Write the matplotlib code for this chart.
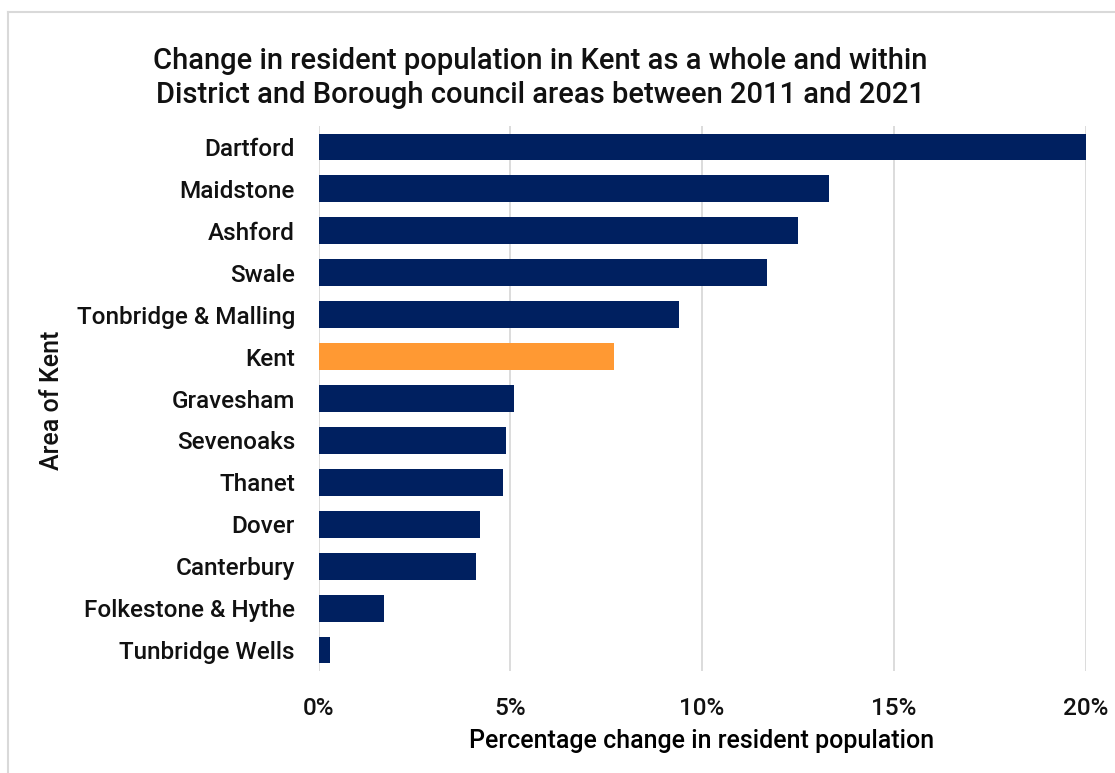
import matplotlib.pyplot as plt
from matplotlib.ticker import PercentFormatter
from matplotlib.lines import Line2D

# Population change 2011-2021 (%), listed top to bottom
areas = ['Dartford', 'Maidstone', 'Ashford', 'Swale', 'Tonbridge & Malling', 'Kent',
         'Gravesham', 'Sevenoaks', 'Thanet', 'Dover', 'Canterbury',
         'Folkestone & Hythe', 'Tunbridge Wells']
change = [20.0, 13.3, 12.5, 11.7, 9.4, 7.7, 5.1, 4.9, 4.8, 4.2, 4.1, 1.7, 0.3]

navy = '#002060'
orange = '#FF9933'
colours = [orange if a == 'Kent' else navy for a in areas]

plt.rcParams['font.family'] = ['Roboto', 'DejaVu Sans']
plt.rcParams['text.color'] = '#111111'
plt.rcParams['xtick.color'] = '#111111'
plt.rcParams['ytick.color'] = '#111111'

W, H = 1115, 773
fig = plt.figure(figsize=(W / 100, H / 100), dpi=100)
ax = fig.add_axes([318.6 / W, 1 - 671 / H, (1085.5 - 318.6) / W, 545 / H])

# light frame along the top and left edges
fig.lines.append(Line2D([8 / W, 1], [1 - 12 / H, 1 - 12 / H], transform=fig.transFigure,
                        color='#d9d9d9', linewidth=1.5))
fig.lines.append(Line2D([8 / W, 8 / W], [0, 1 - 12 / H], transform=fig.transFigure,
                        color='#d9d9d9', linewidth=1.5))

ypos = range(len(areas))
ax.barh(ypos, change, height=0.64, color=colours, zorder=3)
ax.set_ylim(len(areas) - 0.5, -0.5)
ax.set_yticks(list(ypos))
ax.set_yticklabels(areas, fontsize=17.5, fontweight='medium')
ax.set_xlim(0, 20)
ax.set_xticks([0, 5, 10, 15, 20])
ax.xaxis.set_major_formatter(PercentFormatter(decimals=0))
ax.tick_params(axis='x', labelsize=17.5, length=0, pad=19)
for t in ax.get_xticklabels():
    t.set_fontweight('medium')
ax.tick_params(axis='y', length=0, pad=17)

ax.grid(axis='x', color='#d9d9d9', linewidth=1.3, zorder=0)
for s in ax.spines.values():
    s.set_visible(False)

ax.set_xlabel('Percentage change in resident population', fontsize=18,
              fontweight='medium', labelpad=6)
fig.text(52 / W, 1 - 400 / H, 'Area of Kent', rotation=90, ha='center', va='center',
         fontsize=18, fontweight='medium')
fig.text(540 / W, 1 - 78 / H,
         'Change in resident population in Kent as a whole and within\n'
         'District and Borough council areas between 2011 and 2021',
         ha='center', va='center', fontsize=21, fontweight='medium', linespacing=1.3)

fig.savefig('out.png', dpi=100)
